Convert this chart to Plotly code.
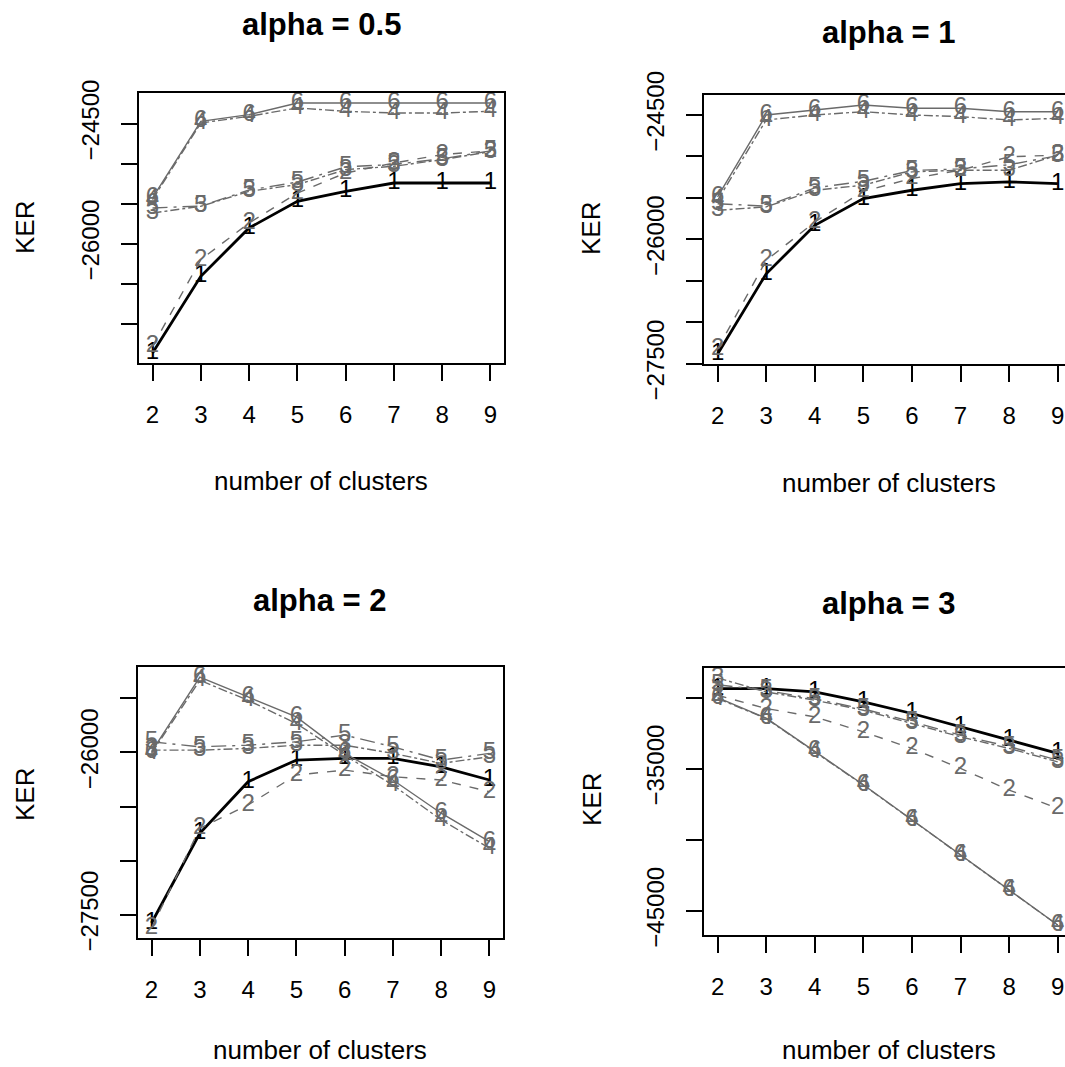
import plotly.graph_objects as go

# number of clusters on the x axis
clusters = [2, 3, 4, 5, 6, 7, 8, 9]
series_labels = ["1", "2", "3", "4", "5", "6"]

# KER values, one list per series (1..6), for each alpha
ker_alpha_05 = [
    [-27367, -26408, -25804, -25471, -25346, -25242, -25242, -25242],
    [-27283, -26200, -25742, -25367, -25117, -24992, -24887, -24840],
    [-25617, -25533, -25346, -25262, -25075, -25033, -24950, -24850],
    [-25450, -24492, -24408, -24304, -24346, -24367, -24367, -24346],
    [-25554, -25530, -25330, -25230, -25040, -25010, -24940, -24840],
    [-25429, -24471, -24387, -24242, -24242, -24242, -24242, -24242],
]
ker_alpha_1 = [
    [-27384, -26416, -25831, -25508, -25408, -25327, -25307, -25327],
    [-27323, -26254, -25791, -25420, -25266, -25166, -25004, -24984],
    [-25650, -25609, -25408, -25347, -25186, -25166, -25166, -24984],
    [-25529, -24560, -24500, -24460, -24500, -24520, -24560, -24540],
    [-25570, -25600, -25380, -25300, -25170, -25150, -25100, -24990],
    [-25488, -24500, -24440, -24379, -24419, -24419, -24460, -24460],
]
ker_alpha_2 = [
    [-27577, -26747, -26271, -26071, -26055, -26055, -26133, -26255],
    [-27623, -26701, -26486, -26209, -26163, -26225, -26255, -26363],
    [-25979, -25979, -25963, -25933, -25933, -26009, -26101, -26040],
    [-26009, -25333, -25518, -25733, -26025, -26302, -26624, -26885],
    [-25902, -25948, -25933, -25902, -25840, -25948, -26071, -26009],
    [-25994, -25303, -25487, -25672, -26009, -26255, -26562, -26824],
]
ker_alpha_3 = [
    [-29368, -29368, -29607, -30309, -31123, -32064, -32998, -33931],
    [-29839, -30772, -31362, -32415, -33580, -34984, -36507, -37792],
    [-28620, -29607, -30190, -30892, -31825, -32766, -33580, -34521],
    [-30070, -31474, -33819, -36157, -38613, -41070, -43527, -46000],
    [-29100, -29500, -30100, -30800, -31700, -32650, -33450, -34400],
    [-30000, -31450, -33790, -36130, -38590, -41040, -43500, -45990],
]

panel_titles = ["alpha = 0.5", "alpha = 1", "alpha = 2", "alpha = 3"]
y_tickvals = [
    [-24500, -25000, -25500, -26000, -26500, -27000, -27500],
    [-24500, -25000, -25500, -26000, -26500, -27000, -27500],
    [-25500, -26000, -26500, -27000, -27500],
    [-30000, -35000, -40000, -45000],
]
y_ticktext = [
    ["\u221224500", "", "", "\u221226000", "", "", "\u221227500"],
    ["\u221224500", "", "", "\u221226000", "", "", "\u221227500"],
    ["", "\u221226000", "", "", "\u221227500"],
    ["", "\u221235000", "", "\u221245000"],
]
x_axis_title = "number of clusters"
y_axis_title = "KER"

W, H = 1065, 1067
FONT = "Liberation Sans, Arial, sans-serif"
GREY = "#6a6a6a"
line_colors = ["#000000", GREY, GREY, GREY, GREY, GREY]
line_widths = [2.8, 1.4, 1.4, 1.4, 1.4, 1.4]
line_dashes = ["solid", "dash", "dashdot", "dashdot", "longdashdot", "solid"]

# plot boxes in pixels: (left, right, top, bottom)
boxes = [
    (139, 504, 93, 363),
    (704, 1065, 95, 364),
    (138, 503, 667, 938),
    (704, 1065, 668, 935),
]
x_ranges = [[1.72, 9.28], [1.72, 9.15], [1.72, 9.28], [1.72, 9.15]]
title_pos = [(321, 25), (889, 32), (320, 600), (889, 603)]
xlab_pos = [(321, 481), (889, 483), (320, 1050), (889, 1050)]
ylab_pos = [(25, 228), (591, 229), (25, 795), (592, 800)]

panels = [ker_alpha_05, ker_alpha_1, ker_alpha_2, ker_alpha_3]

fig = go.Figure()
annotations = []

for p, data in enumerate(panels):
    sfx = "" if p == 0 else str(p + 1)
    xa, ya = "x" + sfx, "y" + sfx
    for s, values in enumerate(data):
        fig.add_trace(go.Scatter(
            x=clusters, y=values, xaxis=xa, yaxis=ya,
            mode="lines+text", text=[series_labels[s]] * len(clusters),
            textposition="middle center",
            textfont=dict(family=FONT, size=24, color=line_colors[s]),
            line=dict(color=line_colors[s], width=line_widths[s], dash=line_dashes[s]),
            cliponaxis=False, showlegend=False, hoverinfo="skip",
        ))

    lo = min(min(v) for v in data)
    hi = max(max(v) for v in data)
    pad = 0.04 * (hi - lo)
    left, right, top, bottom = boxes[p]
    right_col = p in (1, 3)

    axis_font = dict(family=FONT, size=24, color="black")
    fig.layout["xaxis" + sfx] = dict(
        domain=[left / W, right / W], range=x_ranges[p], anchor=ya,
        tickvals=clusters, ticktext=[str(c) for c in clusters],
        ticks="outside", ticklen=16, tickwidth=2, tickcolor="black",
        showline=True, linecolor="black", linewidth=2, mirror=True,
        showgrid=False, zeroline=False, tickfont=axis_font,
        ticklabelstandoff=13, automargin=False,
    )
    fig.layout["yaxis" + sfx] = dict(
        domain=[1 - bottom / H, 1 - top / H], range=[lo - pad, hi + pad], anchor=xa,
        tickvals=y_tickvals[p], ticktext=y_ticktext[p], tickangle=-90,
        ticks="outside", ticklen=16, tickwidth=2, tickcolor="black",
        showline=True, linecolor="black", linewidth=2, mirror=not right_col,
        showgrid=False, zeroline=False, tickfont=axis_font,
        ticklabelstandoff=12, automargin=False,
    )

    annotations.append(dict(
        text="<b>%s</b>" % panel_titles[p], x=title_pos[p][0] / W, y=1 - title_pos[p][1] / H,
        xref="paper", yref="paper", showarrow=False, xanchor="center", yanchor="middle",
        font=dict(family=FONT, size=31, color="black"),
    ))
    annotations.append(dict(
        text=x_axis_title, x=xlab_pos[p][0] / W, y=1 - xlab_pos[p][1] / H,
        xref="paper", yref="paper", showarrow=False, xanchor="center", yanchor="middle",
        font=dict(family=FONT, size=26, color="black"),
    ))
    annotations.append(dict(
        text=y_axis_title, x=ylab_pos[p][0] / W, y=1 - ylab_pos[p][1] / H, textangle=-90,
        xref="paper", yref="paper", showarrow=False, xanchor="center", yanchor="middle",
        font=dict(family=FONT, size=26, color="black"),
    ))

fig.update_layout(
    template="none",
    width=W, height=H, margin=dict(l=0, r=0, t=0, b=0, autoexpand=False),
    paper_bgcolor="white", plot_bgcolor="white",
    annotations=annotations, showlegend=False,
)

fig.write_html("out.html")
